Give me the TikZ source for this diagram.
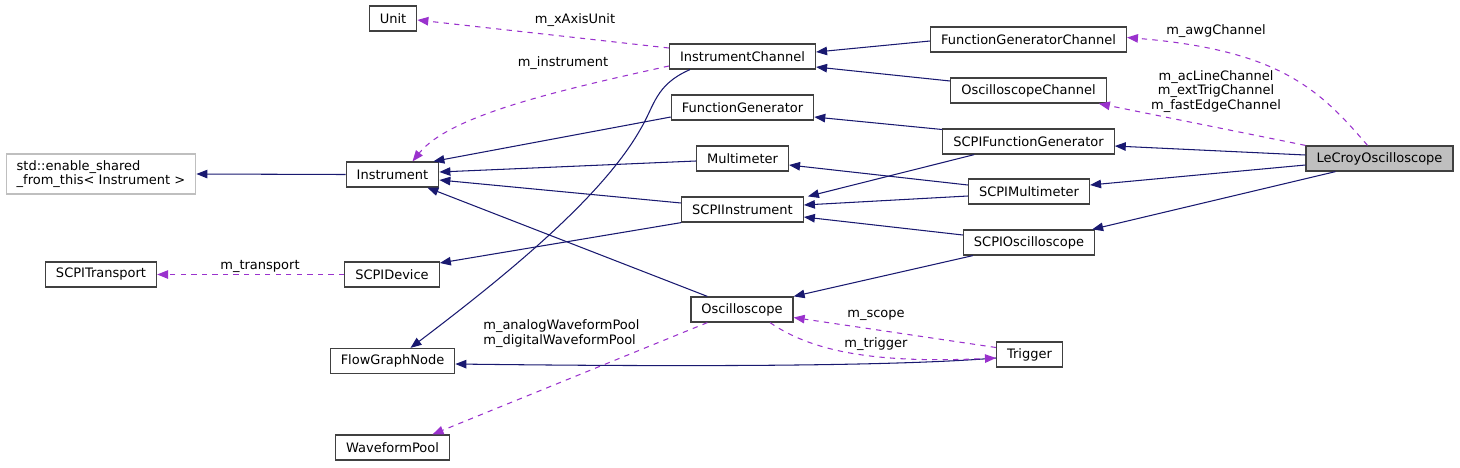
\documentclass[tikz,border=0pt]{standalone}
\usepackage{fontspec}
\setmainfont{DejaVu Sans}
\usetikzlibrary{arrows.meta, calc}
\definecolor{cNavy}{RGB}{25,25,112}
\definecolor{cOrchid}{RGB}{154,50,205}
\definecolor{cFrame}{RGB}{64,64,64}
\definecolor{cGrey}{RGB}{191,191,191}
\tikzset{
	cls/.style     ={rectangle, draw=cFrame, line width=0.7pt, minimum height=0.5cm, inner xsep=0.21cm, inner ysep=0pt, fill=white},
	extcls/.style  ={cls, draw=cGrey, align=left, minimum height=0.8cm},
	inherit/.style ={-{Triangle[length=0.22cm, width=0.17cm]}, draw=cNavy, line width=0.6pt},
	usage/.style   ={-{Triangle[length=0.22cm, width=0.17cm]}, draw=cOrchid, line width=0.6pt, dash pattern=on 3pt off 3pt},
	lbl/.style     ={inner sep=0pt, align=center},
}

\begin{document}
\begin{tikzpicture}[x=0.02cm, y=-0.02cm, font=\fontsize{7.4}{8.4}\selectfont]
	\useasboundingbox (0,0) rectangle (1460,467);
	% classes
	\node[cls] (unit)  at (393,18.5)   {Unit};
	\node[cls] (ic)    at (742.5,56.5) {InstrumentChannel};
	\node[cls] (fgc)   at (1028.5,39.5) {FunctionGeneratorChannel};
	\node[cls] (oscch) at (1028.5,90.5) {OscilloscopeChannel};
	\node[cls] (fg)    at (742.5,107.5) {FunctionGenerator};
	\node[cls] (mm)    at (742.5,158.5) {Multimeter};
	\node[cls] (scpii) at (742.5,209.5) {SCPIInstrument};
	\node[cls] (osc)   at (742,309.5)  {Oscilloscope};
	\node[cls] (scpifg)  at (1028.5,141.5) {SCPIFunctionGenerator};
	\node[cls] (scpimm)  at (1029,191.5)   {SCPIMultimeter};
	\node[cls] (scpiosc) at (1029,242.5)   {SCPIOscilloscope};
	\node[cls] (trig)    at (1029.5,354.5) {Trigger};
	\node[cls, fill=cGrey] (lecroy) at (1379.5,158.5) {LeCroyOscilloscope};
	\node[cls] (inst)  at (392.5,174.5) {Instrument};
	\node[extcls] (esft) at (101,174) {std::enable\_shared\\\_from\_this< Instrument >};
	\node[cls] (trans) at (101,274.5)  {SCPITransport};
	\node[cls] (dev)   at (392,274.5)  {SCPIDevice};
	\node[cls] (fgn)   at (392.5,361)  {FlowGraphNode};
	\node[cls] (pool)  at (392.5,447.5) {WaveformPool};

	% inheritance
	\draw[inherit] ($(fgc.west)+(0,1.5)$) -- ($(ic.east)+(0,-4.5)$);
	\draw[inherit] ($(oscch.west)+(0,-9.5)$) -- ($(ic.east)+(0,10.5)$);
	\draw[inherit] ($(scpifg.west)+(0,-12)$) -- ($(fg.east)+(0,9.5)$);
	\draw[inherit] ($(scpifg.south west)+(32,0)$) -- ($(scpii.north east)+(4,0)$);
	\draw[inherit] ($(scpimm.west)+(0,-6.5)$) -- ($(mm.east)+(0,6.5)$);
	\draw[inherit] ($(scpimm.west)+(0,4.5)$) -- ($(scpii.east)+(0,-4.5)$);
	\draw[inherit] ($(scpiosc.west)+(0,-7.5)$) -- ($(scpii.east)+(0,7.5)$);
	\draw[inherit] ($(scpiosc.south west)+(10,0)$) -- (osc.north east);
	\draw[inherit] ($(lecroy.west)+(0,-3.5)$) -- ($(scpifg.east)+(0,4.5)$);
	\draw[inherit] ($(lecroy.west)+(0,6.5)$) -- ($(scpimm.east)+(0,-6.5)$);
	\draw[inherit] ($(lecroy.south west)+(30,0)$) -- ($(scpiosc.north east)+(-3,0)$);
	\draw[inherit] ($(fg.west)+(0,9.5)$) -- ($(inst.north east)+(-6,0)$);
	\draw[inherit] ($(mm.west)+(0,2.5)$) -- ($(inst.east)+(0,-2.5)$);
	\draw[inherit] ($(scpii.west)+(0,-6.5)$) -- ($(inst.east)+(0,5.5)$);
	\draw[inherit] ($(osc.north west)+(17,0)$) -- ($(inst.south east)+(-12,0)$);
	\draw[inherit] (inst.west) -- (esft.east);
	\draw[inherit] (scpii.south west) -- ($(dev.east)+(0,-11.5)$);
	\draw[inherit] ($(ic.south west)+(21,0)$) .. controls (655,85) and (655,105) .. (640,130)
		.. controls (600,200) and (500,280) .. ($(fgn.north)+(18,0)$);
	\draw[inherit] ($(trig.west)+(0,3.5)$) .. controls (900,366) and (700,367) .. ($(fgn.east)+(0,3)$);

	% members
	\draw[usage] ($(ic.west)+(0,-8.5)$) -- ($(unit.east)+(0,1.5)$);
	\node[lbl] (lunit) at (575,20) {m\_xAxisUnit};
	\draw[usage] ($(ic.west)+(0,9.5)$) .. controls (560,90) and (450,115) .. ($(inst.north)+(20,0)$);
	\node[lbl] (linst) at (563,63) {m\_instrument};
	\draw[usage] ($(lecroy.north)+(-12,0)$) .. controls (1320,90) and (1280,50) .. ($(fgc.east)+(0,-2)$);
	\node[lbl] (lawg) at (1216,31) {m\_awgChannel};
	\draw[usage] (lecroy.north west) -- ($(oscch.south east)+(-8,0)$);
	\node[lbl] (lch) at (1216,91.5) {m\_acLineChannel\\m\_extTrigChannel\\m\_fastEdgeChannel};
	\draw[usage] (dev.west) -- (trans.east);
	\node[lbl] (ltrans) at (260,266) {m\_transport};
	\draw[usage] ($(osc.south west)+(17,0)$) -- ($(pool.north)+(40,0)$);
	\node[lbl, align=left, anchor=west] (lpool) at (483,333.5) {m\_analogWaveformPool\\m\_digitalWaveformPool};
	\draw[usage] ($(trig.west)+(0,-7)$) -- ($(osc.east)+(0,8)$);
	\node[lbl] (lscope) at (876,315) {m\_scope};
	\draw[usage] ($(osc.south)+(28,0)$) .. controls (810,350) and (870,364) .. ($(trig.west)+(0,3.5)$);
	\node[lbl] (ltrig) at (876,344) {m\_trigger};
\end{tikzpicture}
\end{document}
